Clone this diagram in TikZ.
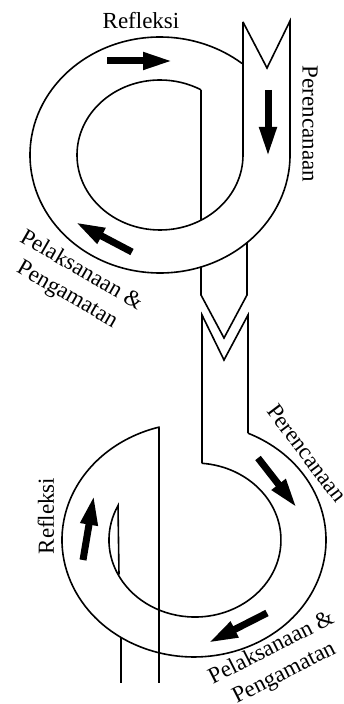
\documentclass[tikz,border=0pt]{standalone}
\usepackage{fontspec}
\setmainfont{Liberation Serif}
\usetikzlibrary{arrows.meta}

\begin{document}
\begin{tikzpicture}[x=1pt,y=1pt,
  edge/.style={line width=1.6pt, line join=miter},
  flow/.style={line width=7pt, -{Triangle[length=30pt,width=16pt]}},
  lbl/.style={font=\fontsize{23}{28}\selectfont, inner sep=0pt}]
\useasboundingbox (0,0) rectangle (343,704);

% upper cycle: outer rim with the notched tail
\draw[edge] (243,682) -- (267,636) -- (290,683) -- (290,549)
  arc[start angle=0, end angle=-309.1, x radius=130, y radius=118];
% upper cycle: inner rim and chord
\draw[edge] (243,682) -- (243,549)
  arc[start angle=0, end angle=-299.6, x radius=83, y radius=75];
\draw[edge] (201,614.2) -- (201,483.8);
% link between the cycles
\draw[edge] (201,437) -- (201,409) -- (224,366) -- (247,409) -- (247,461.3);
\draw[edge] (248,270.8) -- (248,389) -- (224,344) -- (202,389) -- (202,240.7);

% lower cycle: outer rim and exit
\draw[edge] (248,270.8)
  arc[start angle=65.85, end angle=-254.6, x radius=132, y radius=117]
  -- (159,21);
\draw[edge] (121,66.5) -- (121,21);
% lower cycle: inner rim and chord
\draw[edge] (202,240.7)
  arc[start angle=85.3, end angle=-206.5, x radius=86, y radius=77]
  -- (119,129.6);

% flow arrows
\coordinate (a1) at (107,643); \coordinate (b1) at (173,643);
\coordinate (a2) at (268,614); \coordinate (b2) at (268,547);
\coordinate (a3) at (132,452); \coordinate (b3) at (75,482);
\coordinate (a4) at (83,144);  \coordinate (b4) at (94,209);
\coordinate (a5) at (258,246); \coordinate (b5) at (297,196);
\coordinate (a6) at (267,91);  \coordinate (b6) at (208,61);
\foreach \i in {1,...,6}
  \draw[flow] (a\i) -- (b\i);

% labels
\node[lbl] (refl1) at (141,683) {Refleksi};
\node[lbl, rotate=-90] (plan1) at (310,580) {Perencanaan};
\node[lbl, rotate=-30, align=center] (act1) at (74,421) {Pelaksanaan \&\\Pengamatan};
\node[lbl, rotate=90] (refl2) at (46,188) {Refleksi};
\node[lbl, rotate=-53] (plan2) at (307,251) {Perencanaan};
\node[lbl, rotate=27, align=center] (act2) at (278,43) {Pelaksanaan \&\\Pengamatan};
\end{tikzpicture}
\end{document}
